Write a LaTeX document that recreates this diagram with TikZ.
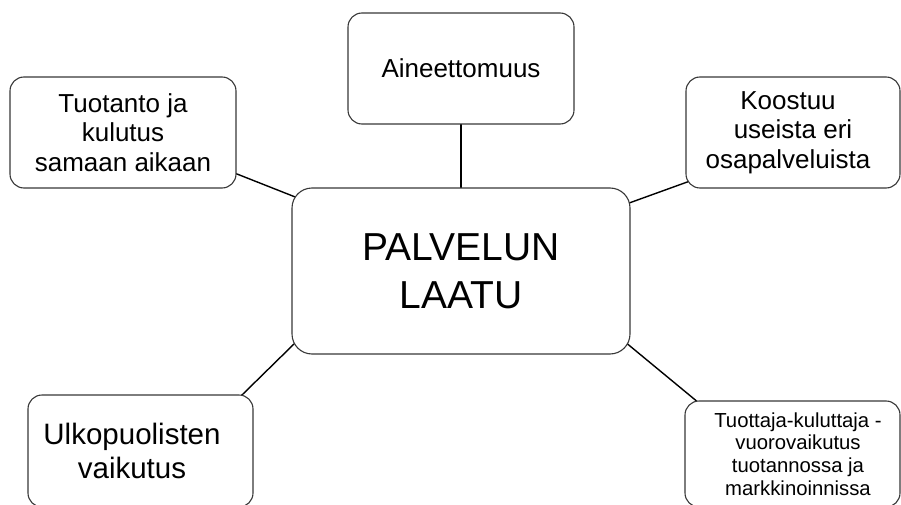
\documentclass[tikz,border=0pt]{standalone}
\usepackage{fontspec}
\setmainfont{Liberation Sans}
\usetikzlibrary{backgrounds}
\definecolor{boxgray}{rgb}{0.22,0.22,0.22}
\tikzset{
    x=1pt, y=-1pt, % pixel-like units, y runs downwards
    idea/.style={draw=boxgray, line width=1.1pt, fill=white, rounded corners=14pt,
        inner sep=0pt, align=center, minimum width=226pt, minimum height=111pt,
        font=\fontsize{26}{29.5}\selectfont}, % outer boxes
    hub/.style={idea, rounded corners=20pt, minimum width=338pt, minimum height=166pt,
        font=\fontsize{39}{48}\selectfont}, % centre box
    link/.style={line width=1.4pt, shorten <=-10pt, shorten >=-10pt}, % ends hidden under the boxes
}

\begin{document}
\begin{tikzpicture}

    \useasboundingbox (0,0) rectangle (901,505);
    \clip (0,0) rectangle (901,505);

    % --- Nodes ---
    \node[hub] (laatu) at (461,271) {PALVELUN\\LAATU};

    % Top row
    \node[idea] (aine) at (461,68.5) {Aineettomuus};
    \node[idea] (tuotanto) at (123,132.5) {Tuotanto ja\\kulutus\\samaan aikaan};
    % text sits a little left of the box centre
    \node[idea, minimum width=214pt] (koostuu) at (793,132.5)
          {Koostuu\hspace*{10pt}\\useista eri\hspace*{10pt}\\osapalveluista\hspace*{10pt}};

    % Bottom row
    \node[idea, minimum width=225pt, minimum height=112pt,
          font=\fontsize{29.5}{34}\selectfont] (ulko) at (140.5,451)
          {Ulkopuolisten\hspace*{17pt}\\vaikutus\hspace*{17pt}};
    \node[idea, minimum width=215pt, minimum height=106pt,
          font=\fontsize{20.3}{22.7}\selectfont] (tuottaja) at (792.5,454)
          {\hspace*{11pt}Tuottaja-kuluttaja -\\\hspace*{11pt}vuorovaikutus\\
           \hspace*{11pt}tuotannossa ja\\\hspace*{11pt}markkinoinnissa};

    % --- Connectors ---
    \begin{scope}[on background layer]
        \draw[link] (aine.south) -- (laatu.north);
        \draw[link] (tuotanto.-20.6) -- (laatu.156.2);
        \draw[link] (koostuu.205.3) -- (laatu.22.8);
        \draw[link] (ulko.29.4) -- (laatu.204.7);
        \draw[link] (tuottaja.151) -- (laatu.-24.9);
    \end{scope}

\end{tikzpicture}
\end{document}
